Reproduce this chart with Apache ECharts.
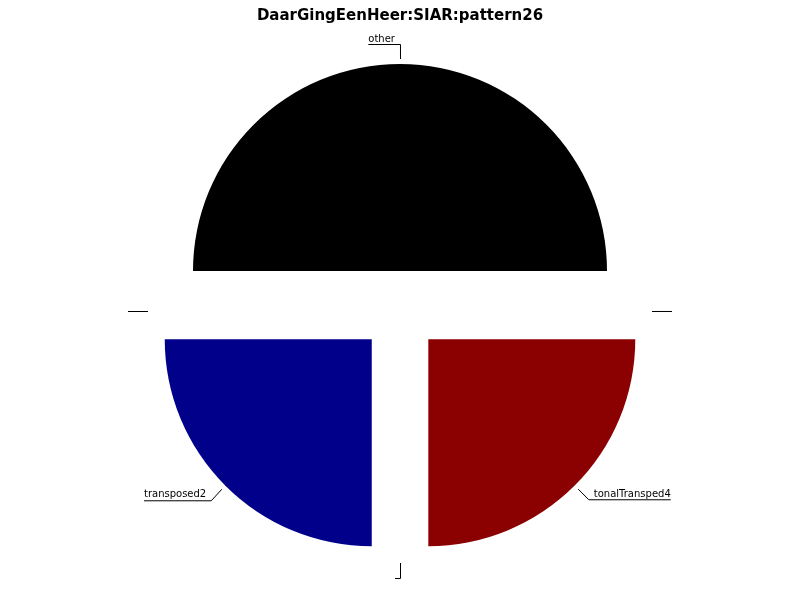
<!DOCTYPE html>
<html><head><meta charset="utf-8">
<script src="https://cdn.jsdelivr.net/npm/echarts@6/dist/echarts.min.js"></script>
<style>html,body{margin:0;padding:0;background:#fff}#c{width:800px;height:600px}</style>
</head><body><div id="c"></div>
<script>
var titleText = 'DaarGingEenHeer:SIAR:pattern26';
var categories = ['other', '', 'transposed2', '', 'tonalTransped4', ''];
var values = [2, 0, 1, 0, 1, 0];
var colors = ['#000000', '#ffffff', '#00008b', '#ffffff', '#8b0000', '#ffffff'];

var LABEL_FONT = '10px "DejaVu Sans"';
var measureCtx = document.createElement('canvas').getContext('2d');
measureCtx.font = LABEL_FONT;
function textWidth(t) { return t ? measureCtx.measureText(t).width : 0; }
function snap(v) { return Math.round(v) + 0.5; }

var chart = echarts.init(document.getElementById('c'), null, {renderer: 'canvas'});
var data = categories.map(function (c, i) {
  return {name: c, value: values[i], selected: true, itemStyle: {color: colors[i]}};
});
function layoutLabel(params) {
  var pts = params.labelLinePoints;
  if (!pts) return {};
  var p0 = pts[0], p1 = pts[1];
  var dx = p1[0] - p0[0], dy = p1[1] - p0[1];
  var len = Math.sqrt(dx * dx + dy * dy) || 1;
  var ux = dx / len, uy = dy / len;
  var gap = 5;
  var a = [p0[0] + ux * gap, p0[1] + uy * gap];
  var isLeft = ux < 0.01;
  var w = textWidth(params.text);
  var endX = isLeft ? p1[0] - 5 - w : p1[0] + 5 + w;
  var by = snap(p1[1]);
  var bx = Math.abs(ux) < 0.01 ? snap(p1[0]) : p1[0];
  var ax = Math.abs(ux) < 0.01 ? snap(a[0]) : a[0];
  var ay = Math.abs(uy) < 0.01 ? by : a[1];
  return {
    verticalAlign: 'bottom',
    labelLinePoints: [[ax, ay], [bx, by], [endX, by]]
  };
}
chart.setOption({
  animation: false,
  title: {text: titleText, left: 'center', top: 4,
    textStyle: {fontFamily: 'DejaVu Sans', fontWeight: 'bold', fontSize: 15, color: '#000'}},
  series: [{
    type: 'pie',
    center: [400, 311],
    radius: 207,
    startAngle: 0.01,
    clockwise: false,
    selectedMode: 'multiple',
    selectedOffset: 40,
    avoidLabelOverlap: false,
    stillShowZeroSum: true,
    label: {show: true, position: 'outside', fontFamily: 'DejaVu Sans', fontSize: 10, color: '#000'},
    labelLine: {show: true, length: 20, length2: 0, lineStyle: {color: '#000', width: 1}},
    labelLayout: layoutLabel,
    emphasis: {disabled: true},
    select: {itemStyle: {borderWidth: 0}},
    data: data
  }]
});
</script></body></html>
